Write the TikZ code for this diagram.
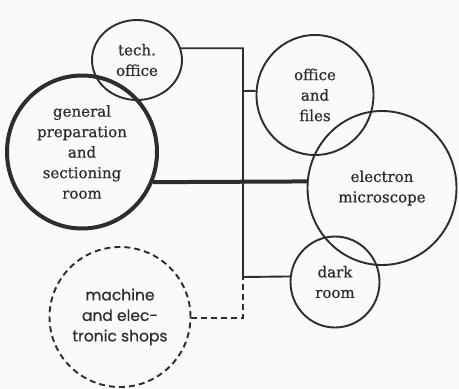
\documentclass[tikz,border=0pt]{standalone}
\usepackage{fontspec}
\setmainfont{DejaVu Serif}[FakeBold=0.7]
\newfontfamily\shopfont{Poppins}[FakeBold=0.5]
\usetikzlibrary{shapes.geometric}
\definecolor{ink}{RGB}{45,45,45}
\definecolor{paper}{RGB}{250,250,248}
\begin{document}
\begin{tikzpicture}[x=1pt,y=-1pt,
  room/.style={ellipse, draw=ink, line width=1.9pt, inner sep=0pt, align=center,
    text=ink, font=\fontsize{15}{20.5}\selectfont},
  mainroom/.style={room, line width=4pt},
  shoproom/.style={room, dashed, dash pattern=on 6pt off 4pt,
    font=\shopfont\fontsize{15.5}{20.5}\selectfont},
  link/.style={draw=ink, line width=1.9pt},
  mainlink/.style={link, line width=4pt},
  shoplink/.style={link, dash pattern=on 6pt off 4pt}]
\fill[paper] (0,0) rectangle (459,389);
\useasboundingbox (0,0) rectangle (459,389);
\node[room, minimum width=90pt, minimum height=80pt] (tech) at (137,60) {tech.\\office};
\node[mainroom, minimum width=150pt, minimum height=153pt] (prep) at (82,152) {general\\preparation\\and\\sectioning\\room};
\node[room, minimum width=117pt, minimum height=120pt] (files) at (315,95) {office\\and\\files};
\node[room, minimum width=149pt, minimum height=154pt] (em) at (382,188) {electron\\microscope};
\node[room, minimum width=89pt, minimum height=91pt] (dark) at (335,282) {dark\\room};
\node[shoproom, minimum width=141pt, minimum height=140pt] (shop) at (120,317) {machine\\and elec-\\tronic shops};
\coordinate (j2) at (243,91);
\coordinate (j3) at (243,277);
\draw[link] (tech.15.6) -| (j3) -- (dark.173.6);
\draw[link] (j2) -- (files.176.1);
\draw[mainlink] (prep.-23.9) -- (em.175.8);
\draw[shoplink] (shop.-1.6) -| (j3);
\end{tikzpicture}
\end{document}
